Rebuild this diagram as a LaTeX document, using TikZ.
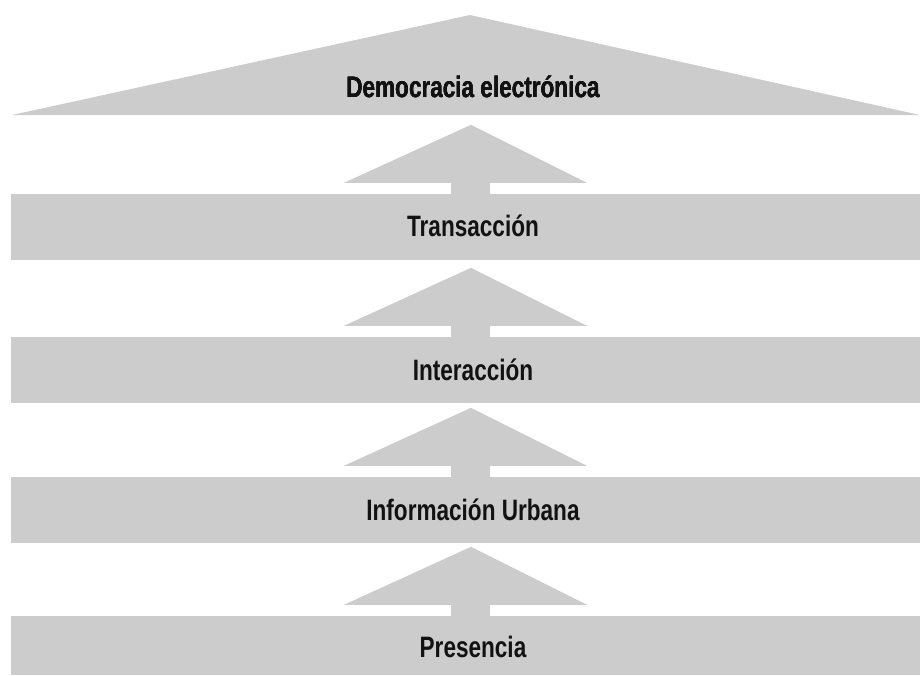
\documentclass[tikz,border=0pt]{standalone}
\usepackage{fontspec}
\usetikzlibrary{calc}
\newfontfamily\rotulo[FakeStretch=0.765]{Liberation Sans}
\definecolor{gris}{HTML}{CCCCCC}
\tikzset{
    barra/.style = {fill=gris, minimum width=909pt, minimum height=66pt, inner sep=0pt},
    etiqueta/.style = {anchor=base, inner sep=0pt, font=\rotulo\bfseries\fontsize{29.5}{31}\selectfont, text=black!93}
}
% arrow standing on top of bar #1
\newcommand{\flecha}[1]{%
    \fill[gris] ($(#1.north)+(-121.5,-11)$) -- ($(#1.north)+(5.5,-69)$) -- ($(#1.north)+(121.5,-11)$)
        -- ($(#1.north)+(24.5,-11)$) -- ($(#1.north)+(24.5,0)$) -- ($(#1.north)+(-14.5,0)$)
        -- ($(#1.north)+(-14.5,-11)$) -- cycle;}

\begin{document}
\begin{tikzpicture}[x=1pt, y=-1pt]
    \useasboundingbox (0,0) rectangle (920,675);
    \fill[gris] (12,115) -- (470,15) -- (920,115) -- cycle;
    \node[barra] (trans) at (465.5,227) {};
    \node[barra] (inter) at (465.5,370) {};
    \node[barra] (info) at (465.5,510) {};
    \node[barra, minimum height=59pt] (pres) at (465.5,645.5) {};
    \foreach \b in {trans, inter, info, pres}
        \flecha{\b}
    \node[etiqueta] (t-demo) at (473,97) {Democracia electrónica};
    \node[etiqueta] (t-trans) at (473,236) {Transacción};
    \node[etiqueta] (t-inter) at (473,380) {Interacción};
    \node[etiqueta] (t-info) at (473,520) {Información Urbana};
    \node[etiqueta] (t-pres) at (473,657) {Presencia};
\end{tikzpicture}
\end{document}
